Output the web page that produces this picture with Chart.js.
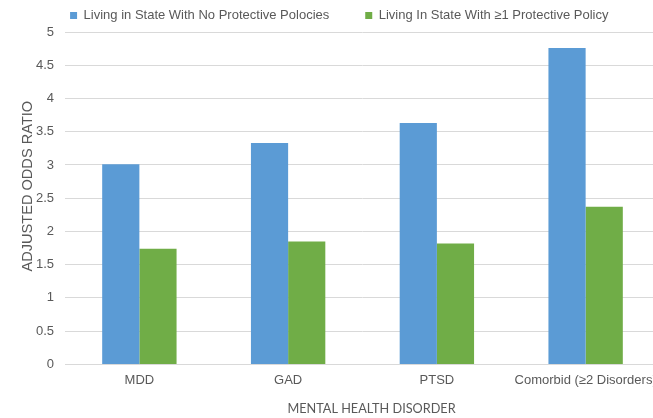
<!DOCTYPE html>
<html>
<head>
<meta charset="utf-8">
<script src="https://cdn.jsdelivr.net/npm/chart.js@4/dist/chart.umd.min.js"></script>
<style>
  html, body { margin: 0; padding: 0; background: #ffffff; }
  #wrap { width: 653px; height: 418px; overflow: hidden; position: relative; }
  canvas { display: block; }
</style>
</head>
<body>
<div id="wrap"><canvas id="chart" width="680" height="418"></canvas></div>
<script>
// Mental health disorder categories (the last label is cut by the plot edge)
const categories = ['MDD', 'GAD', 'PTSD', 'Comorbid (≥2 Disorders)'];

// Adjusted odds ratios per policy environment
const noPolicyValues = [3.01, 3.33, 3.63, 4.76];
const withPolicyValues = [1.74, 1.85, 1.82, 2.37];

const seriesNames = [
  'Living in State With No Protective Polocies',
  'Living In State With ≥1 Protective Policy'
];

const yTickValues = [0, 0.5, 1, 1.5, 2, 2.5, 3, 3.5, 4, 4.5, 5];

const xTitle = 'MENTAL HEALTH DISORDER';
const yTitle = 'ADJUSTED ODDS RATIO';

const textGrey = '#595959';
const gridGrey = '#d9d9d9';

// Axis titles placed like the spreadsheet layout
const axisTitles = {
  id: 'axisTitles',
  afterDraw(chart) {
    const { ctx, chartArea, scales } = chart;
    ctx.save();
    ctx.fillStyle = textGrey;
    ctx.textAlign = 'center';
    ctx.textBaseline = 'middle';

    ctx.font = '12.7px Lato, "Liberation Sans", sans-serif';
    const xMid = (scales.x.getPixelForValue(0) + scales.x.getPixelForValue(categories.length - 1)) / 2 + 9;
    ctx.fillText(xTitle, xMid, chartArea.bottom + 44);

    ctx.font = '14.6px "Liberation Sans", Arial, sans-serif';
    ctx.translate(28, (chartArea.top + chartArea.bottom) / 2 - 12);
    ctx.rotate(-Math.PI / 2);
    ctx.fillText(yTitle, 0, 0);
    ctx.restore();
  }
};

new Chart(document.getElementById('chart'), {
  type: 'bar',
  data: {
    labels: categories,
    datasets: [
      {
        label: seriesNames[0],
        data: noPolicyValues,
        backgroundColor: '#5B9BD5',
        borderWidth: 0
      },
      {
        label: seriesNames[1],
        data: withPolicyValues,
        backgroundColor: '#70AD47',
        borderWidth: 0
      }
    ]
  },
  options: {
    responsive: false,
    animation: false,
    events: [],
    datasets: {
      bar: { categoryPercentage: 0.5, barPercentage: 1.0 }
    },
    layout: {
      padding: { left: 18.5, right: 20, top: -27, bottom: 22 }
    },
    plugins: {
      legend: {
        position: 'top',
        labels: {
          boxWidth: 7,
          boxHeight: 7,
          padding: 36,
          color: textGrey,
          font: { family: '"Liberation Sans", Arial, sans-serif', size: 13 }
        }
      },
      tooltip: { enabled: false }
    },
    scales: {
      x: {
        grid: { display: false, drawTicks: false },
        border: { display: true, color: gridGrey, width: 1 },
        ticks: {
          color: textGrey,
          padding: 8,
          maxRotation: 0,
          autoSkip: false,
          font: { family: '"Liberation Sans", Arial, sans-serif', size: 13 }
        }
      },
      y: {
        min: 0,
        max: 5,
        afterBuildTicks(scale) {
          scale.ticks = yTickValues.map(v => ({ value: v }));
        },
        afterFit(scale) { scale.width = 46.5; },
        grid: { color: gridGrey, lineWidth: 1, drawTicks: false },
        border: { display: false },
        ticks: {
          color: textGrey,
          padding: 11,
          callback: v => String(v),
          font: { family: '"Liberation Sans", Arial, sans-serif', size: 13 }
        }
      }
    }
  },
  plugins: [axisTitles]
});
</script>
</body>
</html>
